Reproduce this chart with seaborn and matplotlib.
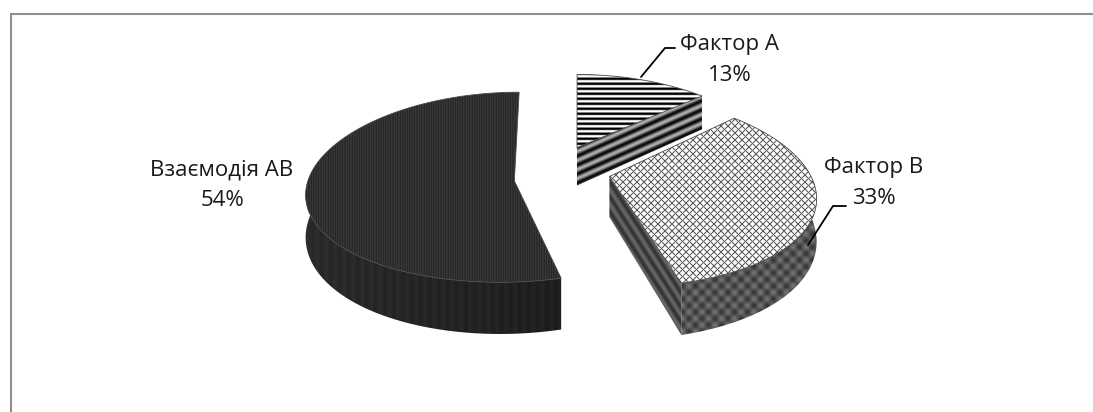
import numpy as np
import matplotlib
matplotlib.use("Agg")
import matplotlib.pyplot as plt
from matplotlib.patches import Polygon
import seaborn as sns

# Variance shares by factor
categories = ["Фактор А", "Фактор В", "Взаємодія АВ"]
shares = [13, 33, 54]

# Projection of the tilted disc onto the canvas (pixels)
CX, CY = 561.0, 170.0
SCALE_X, SCALE_Y = 199.0, 92.0
EXPLODE = [0.25, 0.25, 0.25]
APEX_SHIFT = [(-3, -2), (0, 0), (3, 8)]
W, H = 1093, 412

sns.set_theme(style="white")
plt.rcParams["font.family"] = ["Open Sans", "DejaVu Sans"]

fig = plt.figure(figsize=(W / 100, H / 100), dpi=100)
ax = fig.add_axes([0, 0, 1, 1])
ax.set_axis_off()

grid_x, grid_y = np.meshgrid(np.arange(W) + 0.5, np.arange(H) + 0.5)


def project(x, y):
    """Perspective projection of disc coordinates to canvas pixels."""
    wx = 1 + 0.185 * y
    wy = 1 + 0.15 * y
    return CX + SCALE_X * x / wx, CY - SCALE_Y * y / wy


def depth(y):
    return 40.0 / (1 + 0.22 * y)


def wave(s, period):
    return np.sin(2 * np.pi * s / period)


def lattice(u, v, period):
    return np.cos(2 * np.pi * u / period) + np.cos(2 * np.pi * v / period)


def crosshatch(u, v, period):
    return np.minimum(np.abs(np.sin(np.pi * u / period)), np.abs(np.sin(np.pi * v / period)))


draw_order = [2]


def paint(texture, points, edge=None):
    """Fill a polygon with a grey texture, clipped to its outline."""
    poly = Polygon(points, closed=True, transform=ax.transData, facecolor="none", edgecolor="none")
    ax.add_patch(poly)
    img = ax.imshow(texture, cmap="gray", vmin=0, vmax=1, extent=(0, W, H, 0),
                    aspect="auto", interpolation="bilinear", zorder=draw_order[0])
    img.set_clip_path(poly)
    draw_order[0] += 1
    if edge:
        ax.add_patch(Polygon(points, closed=True, facecolor="none", edgecolor=edge,
                             linewidth=0.6, zorder=draw_order[0]))
        draw_order[0] += 1


# Grey textures for each slice: top surface, rim, cut face
top_textures = [
    np.clip(0.50 + 0.62 * wave(grid_y, 5.0), 0, 1),
    np.clip(0.36 + 1.05 * crosshatch(grid_x + grid_y, grid_x - grid_y, 7.0), 0, 1),
    np.clip(0.19 + 0.04 * wave(grid_x, 2.4), 0, 1),
]
rim_textures = [
    None,
    np.clip(0.33 + 0.06 * lattice(grid_x + grid_y, grid_x - grid_y, 13.0), 0, 1),
    np.clip(0.17 - 0.05 * (grid_x - 300) / 260 + 0.015 * wave(grid_x, 9.0), 0, 1),
]
cut_textures = [
    np.clip(0.36 + 0.32 * wave(grid_y + 0.443 * grid_x, 9.0), 0, 1),
    np.clip(0.30 + 0.10 * wave(grid_x * 0.84 - grid_y * 0.54, 8.0), 0, 1),
    None,
]

bounds = np.cumsum([0] + shares) / np.sum(shares) * 2 * np.pi
for i in range(len(shares)):
    start, end = bounds[i], bounds[i + 1]
    mid = (start + end) / 2
    ox, oy = EXPLODE[i] * np.sin(mid), EXPLODE[i] * np.cos(mid)
    theta = np.linspace(start, end, 160)
    rx, ry = np.sin(theta) + ox, np.cos(theta) + oy
    arc_x, arc_y = project(rx, ry)
    apex_x, apex_y = project(ox, oy)
    apex_x, apex_y = apex_x + APEX_SHIFT[i][0], apex_y + APEX_SHIFT[i][1]

    # The rim is only seen along the near side of the disc
    if rim_textures[i] is not None:
        near = np.cos(theta) < 0.3
        rim = np.column_stack([np.r_[arc_x[near], arc_x[near][::-1]],
                               np.r_[arc_y[near], (arc_y[near] + depth(ry[near]))[::-1]]])
        paint(rim_textures[i], rim)

    if cut_textures[i] is not None:
        cut = [(apex_x, apex_y), (arc_x[-1], arc_y[-1]),
               (arc_x[-1], arc_y[-1] + depth(ry[-1])),
               (apex_x, apex_y + depth(oy))]
        paint(cut_textures[i], cut)

    top = np.column_stack([np.r_[apex_x, arc_x], np.r_[apex_y, arc_y]])
    paint(top_textures[i], top, edge="#4a4a4a")

ax.set_xlim(0, W)
ax.set_ylim(H, 0)

# Chart frame, cut off along the right and bottom
ax.plot([10.5, 10.5, W], [H, 13.5, 13.5], color="#8f8f8f", lw=1.5,
        solid_joinstyle="miter", zorder=1)

# Leader lines
leaders = [([641, 665, 675], [77, 48, 48]), ([808, 833, 846], [245, 206, 206])]
for lx, ly in leaders:
    ax.plot(lx, ly, color="black", lw=1.3, zorder=50, solid_joinstyle="miter")

# Category labels with their percentages
label_pos = [(730, 60), (874, 183), (222, 185)]
for name, value, (tx, ty) in zip(categories, shares, label_pos):
    ax.text(tx, ty, f"{name}\n{value}%", ha="center", va="center", fontsize=16,
            color="#1a1a1a", linespacing=1.57, zorder=60)

fig.savefig("out.png", dpi=100, facecolor="white")
